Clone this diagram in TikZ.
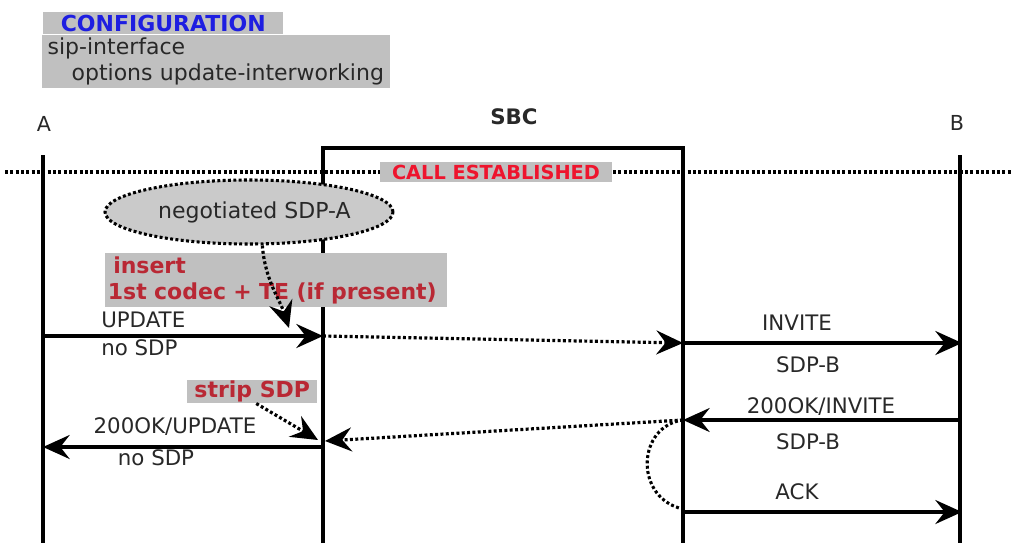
\documentclass[tikz,border=0pt]{standalone}
\usepackage{xcolor}
\usepackage{fontspec}
\setmainfont{DejaVu Sans}
\usepackage{tikz}
\usetikzlibrary{
  positioning,
  arrows.meta,
  calc,
  shapes.geometric
}
\definecolor{boxgray}{RGB}{192, 192, 192}
\definecolor{ovalgray}{RGB}{202, 202, 202}
\definecolor{cfgblue}{RGB}{30, 30, 225}
\definecolor{callred}{RGB}{238, 20, 45}
\definecolor{notered}{RGB}{185, 40, 52}
\definecolor{inkgray}{RGB}{40, 40, 40}
\tikzset{
  lifeline/.style={line width=2.3pt, black},
  msg/.style={line width=2.4pt, black, -{Stealth[length=20pt, width=18pt, inset=7pt]}},
  dotline/.style={line width=2.3pt, dash pattern=on 2.2pt off 1.8pt},
  dotmsg/.style={msg, dash pattern=on 2.2pt off 1.8pt},
  msglabel/.style={font=\fontsize{16}{19}\selectfont, text=inkgray, inner sep=0pt},
  note/.style={
    fill=boxgray, text=notered,
    font=\fontsize{16.5}{19.5}\selectfont\bfseries
  }
}

\begin{document}
\begin{tikzpicture}[
  x=0.75pt, y=-0.75pt,
  cfgbox/.style={fill=boxgray, anchor=north west, inner sep=0pt},
  actor/.style={font=\fontsize{15.5}{18}\selectfont, text=inkgray, inner sep=0pt},
]
\useasboundingbox (0,0) rectangle (1013,543);

% configuration
\node[cfgbox, minimum width=180pt, minimum height=16.5pt,
  font=\fontsize{16.5}{19.5}\selectfont\bfseries, text=cfgblue] (cfgtitle) at (43,12) {CONFIGURATION};
\node[cfgbox, text width=253pt, minimum height=39.75pt, inner xsep=4pt, align=left,
  font=\fontsize{16.5}{19.5}\selectfont, text=inkgray] (cfgtext) at (42,35)
  {sip-interface\\\hspace*{18pt}options update-interworking};

% actors
\node[actor] (A) at (44,124) {A};
\node[actor, font=\fontsize{16}{19}\selectfont\bfseries] (SBC) at (514,117) {SBC};
\node[actor] (B) at (957,123) {B};

\coordinate (a-top) at (43,155);     \coordinate (a-bot) at (43,543);
\coordinate (sl-top) at (323,148);   \coordinate (sl-bot) at (323,543);
\coordinate (sr-top) at (683,148);   \coordinate (sr-bot) at (683,543);
\coordinate (b-top) at (960,155);    \coordinate (b-bot) at (960,543);

\draw[lifeline] (a-top) -- (a-bot);
\draw[lifeline] (sl-bot) -- (sl-top) -- (sr-top) -- (sr-bot);
\draw[lifeline] (b-top) -- (b-bot);

% call established
\coordinate (dl-west) at (5,172);
\coordinate (dl-east) at (1013,172);
\draw[dotline] (dl-west) -- (dl-east);
\node[fill=boxgray, minimum width=174pt, minimum height=15pt, inner sep=0pt,
  font=\fontsize{14.5}{17}\selectfont\bfseries, text=callred] (callest) at (496,172) {CALL ESTABLISHED};

\node[ellipse, draw, dotline, fill=ovalgray, minimum width=216pt, minimum height=48pt, inner sep=0pt,
  font=\fontsize{16.5}{19.5}\selectfont, text=inkgray] (sdpa) at (249,212) {\hspace{8pt}negotiated SDP-A};

% notes
\node[note, anchor=north west, text width=252pt, minimum height=40.5pt,
  inner xsep=2pt, inner ysep=0pt, align=left] (insnote) at (105,253)
  {\hspace{4pt}insert\\1st codec + TE (if present)};
\node[note, anchor=north west, minimum width=97.5pt, minimum height=17.25pt, inner sep=0pt] (stripnote) at (187,380) {strip SDP};

% message points
\coordinate (upd-a) at (43,336);    \coordinate (upd-s) at (323,336);
\coordinate (inv-s) at (683,343);   \coordinate (inv-b) at (962,343);
\coordinate (ok-b) at (960,420);    \coordinate (ok-s) at (683,420);
\coordinate (okfw-s) at (325,441);
\coordinate (oku-s) at (323,447);   \coordinate (oku-a) at (43,447);
\coordinate (ack-s) at (683,512);   \coordinate (ack-b) at (962,512);
\coordinate (ins-tip) at (289,328);
\coordinate (strip-tip) at (318,440);

\draw[dotmsg] ([xshift=10pt]sdpa.south) .. controls (265,280) and (280,300) .. (ins-tip);
\draw[dotmsg] ([xshift=3pt]stripnote.south) -- (strip-tip);

\draw[msg] (upd-a) -- (upd-s);
\draw[dotmsg] (upd-s) -- (inv-s);
\draw[msg] (inv-s) -- (inv-b);
\draw[msg] (ok-b) -- (ok-s);
\draw[dotmsg] (ok-s) -- (okfw-s);
\draw[dotline] (ok-s) .. controls (638,426) and (634,494) .. (679,508);
\draw[msg] (ack-s) -- (ack-b);
\draw[msg] (oku-s) -- (oku-a);

% labels
\node[msglabel, anchor=west] (lupd) at (101,320) {UPDATE};
\node[msglabel, anchor=west] (lupdsdp) at (101,348) {no SDP};
\node[msglabel] (linv) at (797,323) {INVITE};
\node[msglabel] (linvsdp) at (808,365) {SDP-B};
\node[msglabel] (lok) at (821,407) {200OK/INVITE};
\node[msglabel] (loksdp) at (808,442) {SDP-B};
\node[msglabel] (lack) at (797,492) {ACK};
\node[msglabel] (loku) at (175,427) {200OK/UPDATE};
\node[msglabel] (lokusdp) at (156,458) {no SDP};

\end{tikzpicture}
\end{document}
